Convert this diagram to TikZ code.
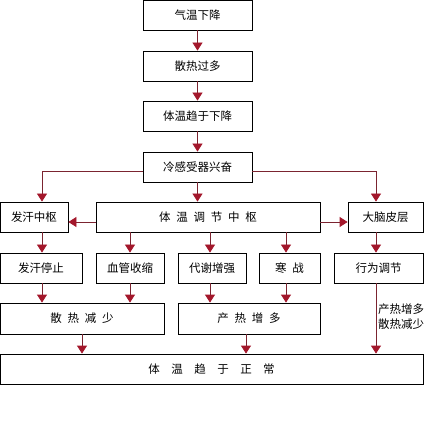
\documentclass[tikz,border=0pt]{standalone}
\usepackage{fontspec}
\setmainfont{Noto Sans CJK SC}
\usepackage{tikz}
\definecolor{lred}{HTML}{7B2430}
\definecolor{tred}{HTML}{A3172B}
\usetikzlibrary{arrows.meta}

\begin{document}
\begin{tikzpicture}[x=1pt, y=-1pt]
    \tikzset{bx/.style={
      draw,
      line width=0.8pt,
      minimum height=30pt,
      inner sep=0pt,
      font=\fontsize{11.5}{15}\selectfont},
      ar/.style={
      draw=lred,
      line width=0.8pt,
      -{Triangle[width=10pt,length=8pt,color=tred]}}}
    \useasboundingbox (0, 0) rectangle (437, 425);
    \node[bx, minimum width=109pt] at (197.5, 15) (qw) {气温下降};
    \node[bx, minimum width=109pt] at (197.5, 66) (sg) {散热过多};
    \node[bx, minimum width=109pt] at (197.5, 116) (tx) {体温趋于下降};
    \node[bx, minimum width=109pt] at (197.5, 167) (lg) {冷感受器兴奋};
    \node[bx, minimum width=68pt] at (34, 217) (fh) {发汗中枢};
    \node[bx, minimum width=224pt] at (208, 217) (zx) {体\enspace 温\enspace 调\enspace 节\enspace 中\enspace 枢};
    \node[bx, minimum width=75pt] at (385.5, 217) (dn) {大脑皮层};
    \node[bx, minimum width=82pt] at (41, 268) (fz) {发汗停止};
    \node[bx, minimum width=68pt] at (130, 268) (xg) {血管收缩};
    \node[bx, minimum width=68pt] at (212, 268) (dx) {代谢增强};
    \node[bx, minimum width=61pt] at (289.5, 268) (hz) {寒\enspace 战};
    \node[bx, minimum width=89pt] at (378.5, 268) (xw) {行为调节};
    \node[bx, minimum width=164pt, minimum height=31pt] at (82, 318.5) (sr) {散\enspace 热\enspace 减\enspace 少};
    \node[bx, minimum width=142pt, minimum height=31pt] at (249, 318.5) (cr) {产\enspace 热\enspace 增\enspace 多};
    \node[bx, minimum width=423pt] at (211.5, 369) (tz) {体\quad 温\quad 趋\quad 于\quad 正\quad 常};
    \node[anchor=west, inner sep=0pt, align=left, font=\fontsize{11.5}{15}\selectfont] at (378, 317) (lb) {产热增多\\散热减少};
    \draw[ar] (qw) -- (sg);
    \draw[ar] (sg) -- (tx);
    \draw[ar] (tx) -- (lg);
    \draw[ar] (lg.south) -- (lg.south |- zx.north);
    \draw[ar] ([yshift=-4pt]lg.west) -| ([xshift=8pt]fh.north);
    \draw[ar] ([yshift=-4pt]lg.east) -| ([xshift=-9.5pt]dn.north);
    \draw[ar] ([yshift=-5pt]zx.west) -- ([yshift=-5pt]fh.east);
    \draw[ar] ([yshift=-5pt]zx.east) -- ([yshift=-5pt]dn.west);
    \draw[ar] ([xshift=8pt]fh.south) -- ([xshift=1pt]fz.north);
    \draw[ar] (xg.north |- zx.south) -- (xg.north);
    \draw[ar] ([xshift=-2pt]dx.north |- zx.south) -- ([xshift=-2pt]dx.north);
    \draw[ar] ([xshift=-3.5pt]hz.north |- zx.south) -- ([xshift=-3.5pt]hz.north);
    \draw[ar] ([xshift=-9.5pt]dn.south) -- ([xshift=-2.5pt]xw.north);
    \draw[ar] ([xshift=1pt]fz.south) -- ([xshift=1pt]fz.south |- sr.north);
    \draw[ar] (xg.south) -- (xg.south |- sr.north);
    \draw[ar] ([xshift=-2pt]dx.south) -- ([xshift=-2pt]dx.south |- cr.north);
    \draw[ar] ([xshift=-3.5pt]hz.south) -- ([xshift=-3.5pt]hz.south |- cr.north);
    \draw[ar] (sr.south) -- (sr.south |- tz.north);
    \draw[ar] ([xshift=-3pt]cr.south) -- ([xshift=-3pt]cr.south |- tz.north);
    \draw[ar] ([xshift=-2.5pt]xw.south) -- ([xshift=-2.5pt]xw.south |- tz.north);
\end{tikzpicture}
\end{document}
